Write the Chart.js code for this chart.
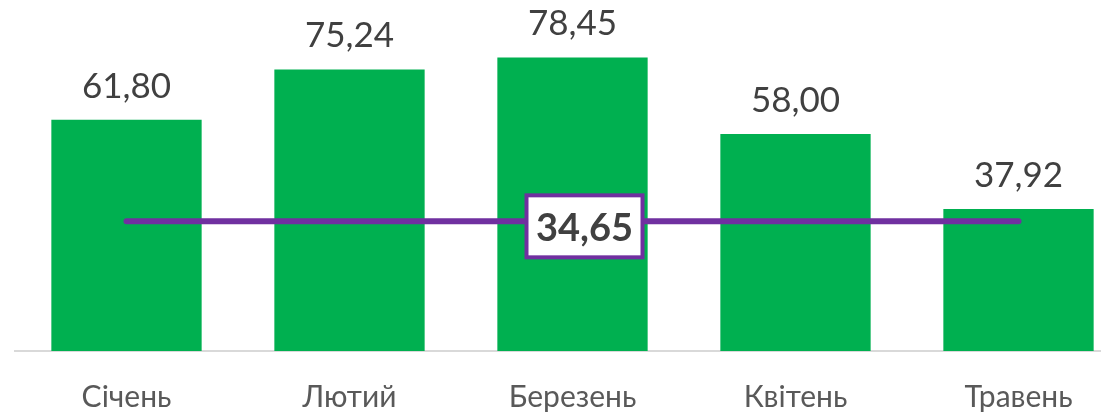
<!DOCTYPE html>
<html><head><meta charset="utf-8">
<script src="https://cdn.jsdelivr.net/npm/chart.js@4/dist/chart.umd.min.js"></script>
<style>html,body{margin:0;padding:0;overflow:hidden;background:#fff}#wrap{width:1130px;height:413px}</style>
</head><body><div id="wrap"><canvas id="c" width="1130" height="413"></canvas></div>
<script>
const categories = ["Січень","Лютий","Березень","Квітень","Травень"];
const values = [61.80, 75.24, 78.45, 58.00, 37.92];
const averageValue = 34.65;
const averageLine = categories.map(() => averageValue);
const fmt = v => v.toFixed(2).replace('.', ',');

const labelsPlugin = {
  id: 'labels',
  afterDatasetsDraw(chart) {
    const ctx = chart.ctx;
    const meta = chart.getDatasetMeta(1);
    ctx.save();
    ctx.fillStyle = '#404040';
    ctx.font = '35px Lato';
    ctx.textAlign = 'center';
    ctx.textBaseline = 'bottom';
    meta.data.forEach((bar, i) => {
      ctx.fillText(fmt(values[i]), bar.x, bar.y - 16);
    });
    // average box
    const x = chart.scales.x.getPixelForValue(2) + 12;
    const y = chart.scales.y.getPixelForValue(averageValue);
    const w = 116, h = 62;
    ctx.fillStyle = '#fff';
    ctx.fillRect(x - w/2, y - h/2 + 5, w, h);
    ctx.strokeStyle = '#7030A0';
    ctx.lineWidth = 4;
    ctx.strokeRect(x - w/2, y - h/2 + 5, w, h);
    ctx.fillStyle = '#404040';
    ctx.font = 'bold 38px Lato';
    ctx.textBaseline = 'middle';
    ctx.fillText(fmt(averageValue), x, y + 7);
    ctx.restore();
  }
};

new Chart(document.getElementById('c'), {
  data: {
    labels: categories,
    datasets: [
      { type: 'line', data: averageLine, borderColor: '#7030A0', borderWidth: 6, pointRadius: 0, borderCapStyle: 'round', order: 0 },
      { type: 'bar', data: values, backgroundColor: '#00B050', categoryPercentage: 1, barPercentage: 0.674, order: 1 }
    ]
  },
  options: {
    responsive: false,
    animation: false,
    layout: { padding: { left: 15, right: 0, top: 0, bottom: -22 } },
    plugins: { legend: { display: false }, tooltip: { enabled: false } },
    scales: {
      x: {
        grid: { display: false },
        border: { color: '#D9D9D9', width: 2 },
        ticks: { color: '#595959', font: { family: 'Lato', size: 30 }, padding: 20 }
      },
      y: { display: false, min: 0, max: 93.8 }
    }
  },
  plugins: [labelsPlugin]
});
</script></body></html>
